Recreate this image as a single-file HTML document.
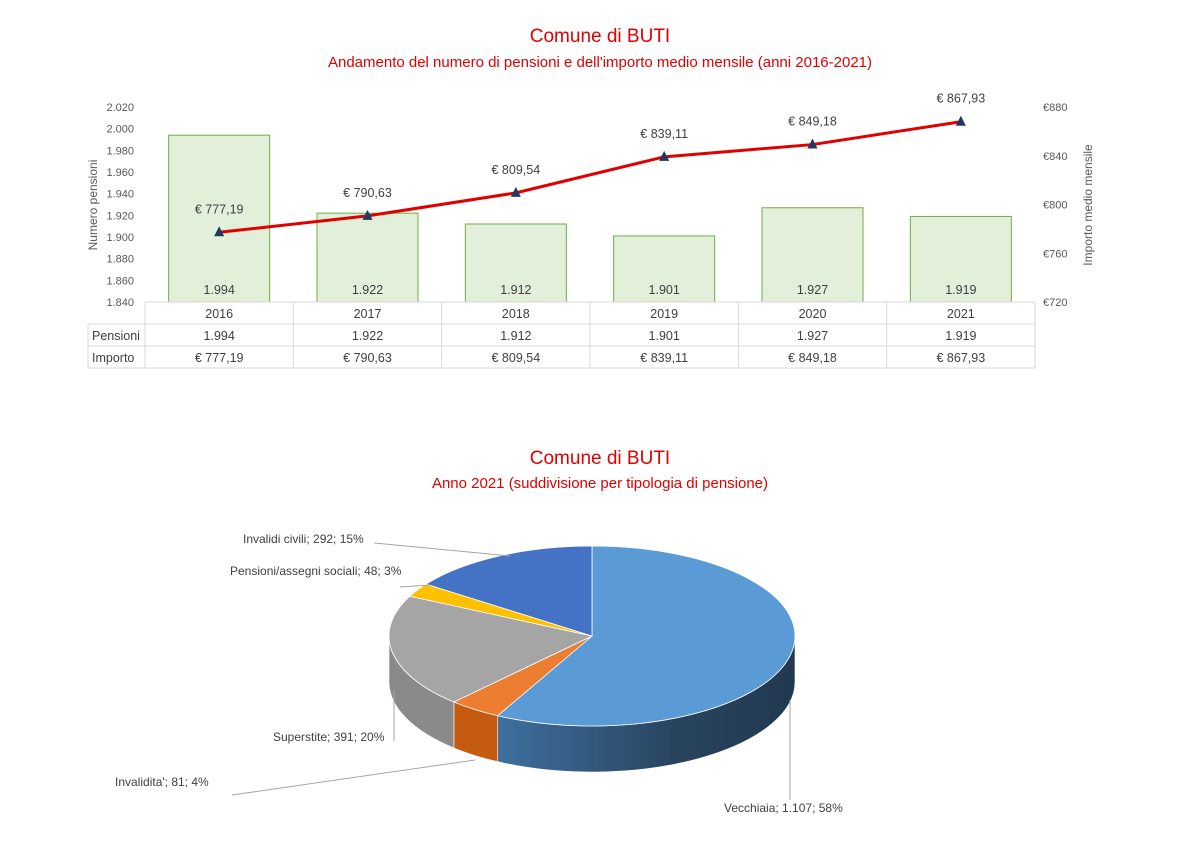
<!DOCTYPE html>
<html><head><meta charset="utf-8"><style>
body{margin:0;background:#fff;width:1200px;height:848px;overflow:hidden;font-family:"Liberation Sans",sans-serif}
svg text{font-family:"Liberation Sans",sans-serif}
</style></head><body>
<svg id="s" width="1200" height="848">
<text x="600" y="42" text-anchor="middle" font-size="19" fill="#e00000">Comune di BUTI</text>
<text x="600" y="67" text-anchor="middle" font-size="15" fill="#e00000">Andamento del numero di pensioni e dell'importo medio mensile (anni 2016-2021)</text>
<text x="600" y="464" text-anchor="middle" font-size="19" fill="#e00000">Comune di BUTI</text>
<text x="600" y="488" text-anchor="middle" font-size="15" fill="#e00000">Anno 2021 (suddivisione per tipologia di pensione)</text>
<g id="bar"></g><g id="pie"></g>
</svg>
<script>
const years=['2016','2017','2018','2019','2020','2021'];
const pensioni=[1994,1922,1912,1901,1927,1919];
const importo=[777.19,790.63,809.54,839.11,849.18,867.93];
const leftTicks=[1840,1860,1880,1900,1920,1940,1960,1980,2000,2020];
const rightTicks=[720,760,800,840,880];
const pieLabels=['Vecchiaia','Invalidita\'','Superstite','Pensioni/assegni sociali','Invalidi civili'];
const pieValues=[1107,81,391,48,292];

const NS='http://www.w3.org/2000/svg';
function mk(p,t,a,txt){const e=document.createElementNS(NS,t);for(const k in a)e.setAttribute(k,a[k]);if(txt!=null)e.textContent=txt;p.appendChild(e);return e;}
const fmtN=v=>String(v).replace(/\B(?=(\d{3})+(?!\d))/g,'.');
const fmtE=v=>'€ '+v.toFixed(2).replace('.',',');
const X0=145,X1=1035,Y0=107,Y1=302,cw=(X1-X0)/years.length;
const yL=v=>Y1-(v-1840)/(2020-1840)*(Y1-Y0);
const yR=v=>Y1-(v-720)/(880-720)*(Y1-Y0);
const xC=i=>X0+cw*(i+0.5);
const g=document.getElementById('bar');
leftTicks.forEach(t=>{const e=mk(g,'text',{x:134,y:yL(t)+4,'text-anchor':'end','font-size':11,fill:'#595959'},fmtN(t));
});
rightTicks.forEach(t=>{const e=mk(g,'text',{x:1043,y:yR(t)+4,'font-size':11,fill:'#595959'},'€'+t);
});
let e=mk(g,'text',{transform:'translate(97,205) rotate(-90)','text-anchor':'middle','font-size':12,fill:'#595959'},'Numero pensioni');

e=mk(g,'text',{transform:'translate(1092,205) rotate(-90)','text-anchor':'middle','font-size':12,fill:'#595959'},'Importo medio mensile');

pensioni.forEach((v,i)=>{const bw=101;
const r=mk(g,'rect',{x:xC(i)-bw/2,y:yL(v),width:bw,height:Y1-yL(v),fill:'#e2efd9',stroke:'#70ad47','stroke-width':1});

const t=mk(g,'text',{x:xC(i),y:294,'text-anchor':'middle','font-size':12.5,fill:'#404040'},fmtN(v));
});
const pl=mk(g,'polyline',{points:importo.map((v,i)=>xC(i)+','+yR(v)).join(' '),fill:'none',stroke:'#e00000','stroke-width':3});


importo.forEach((v,i)=>{const x=xC(i),y=yR(v);
const p=mk(g,'polygon',{points:`${x},${y-6} ${x-5},${y+4} ${x+5},${y+4}`,fill:'#1f3864'});

const t=mk(g,'text',{x:x,y:y-19,'text-anchor':'middle','font-size':12.5,fill:'#404040'},fmtE(v));
});
const ln=(a,b,c,d)=>mk(g,'line',{x1:a,y1:b,x2:c,y2:d,stroke:'#d9d9d9','stroke-width':1});
ln(X0,Y1,X1,Y1);ln(88,324,X1,324);ln(88,346,X1,346);ln(88,368,X1,368);ln(88,324,88,368);
for(let i=0;i<=years.length;i++)ln(X0+cw*i,Y1,X0+cw*i,368);
const rows=[['',years],['Pensioni',pensioni.map(fmtN)],['Importo',importo.map(fmtE)]];
rows.forEach((r,ri)=>{const y=318+ri*22;
if(r[0]){const t=mk(g,'text',{x:92,y:y,'font-size':12.5,fill:'#404040'},r[0]);}
r[1].forEach((c,i)=>{const t=mk(g,'text',{x:xC(i),y:y,'text-anchor':'middle','font-size':12.5,fill:'#404040'},c);
});});
const pg=document.getElementById('pie');
const cx=592,cy=636,rx=203,ry=90,D=46;
const topC=['#5b9bd5','#ed7d31','#a5a5a5','#ffc000','#4472c4'];
const sideC=['url(#gb)','#c55a11','#8a8a8a','#bf9000','#2f5597'];
const defs=mk(pg,'defs',{});
const lg=mk(defs,'linearGradient',{id:'gb',x1:0,y1:0,x2:1,y2:0});
mk(lg,'stop',{offset:0,'stop-color':'#3f6f9f'});mk(lg,'stop',{offset:0.6,'stop-color':'#28445f'});mk(lg,'stop',{offset:1,'stop-color':'#22394f'});
const tot=pieValues.reduce((a,b)=>a+b,0);
const P=(a,dy=0)=>[cx+rx*Math.sin(a),cy-ry*Math.cos(a)+dy];
let acc=0;const ang=pieValues.map(v=>{const a=[acc/tot*2*Math.PI,(acc+v)/tot*2*Math.PI];acc+=v;return a;});
ang.forEach(([a,b],i)=>{const s=Math.max(a,Math.PI/2),en=Math.min(b,3*Math.PI/2);if(en<=s)return;
const p1=P(s),p2=P(en),p3=P(en,D),p4=P(s,D);
const d=`M${p1}A${rx},${ry} 0 0 1 ${p2}L${p3}A${rx},${ry} 0 0 0 ${p4}Z`;
const el=mk(pg,'path',{d:d,fill:sideC[i],stroke:'#fff','stroke-width':0.6});
});
ang.forEach(([a,b],i)=>{const p1=P(a),p2=P(b);const large=(b-a)>Math.PI?1:0;
const el=mk(pg,'path',{d:`M${cx},${cy}L${p1}A${rx},${ry} 0 ${large} 1 ${p2}Z`,fill:topC[i],stroke:'#fff','stroke-width':0.8});
});
const lab=[[724,812,'start',[[790,800],[790,700]]],[115,786,'start',[[232,795],[475,760]]],[273,741,'start',[[394,741],[394,690]]],[230,575,'start',[[400,587],[430,585]]],[243,543,'start',[[374,543],[510,556]]]];
pieLabels.forEach((l,i)=>{const [x,y,an,pts]=lab[i];
const t=mk(pg,'text',{x:x,y:y,'text-anchor':an,'font-size':12,fill:'#404040'},`${l}; ${fmtN(pieValues[i])}; ${Math.round(pieValues[i]/tot*100)}%`);

const ll=mk(pg,'polyline',{points:pts.map(p=>p.join(',')).join(' '),fill:'none',stroke:'#a6a6a6','stroke-width':1});
});
</script>
</body></html>
